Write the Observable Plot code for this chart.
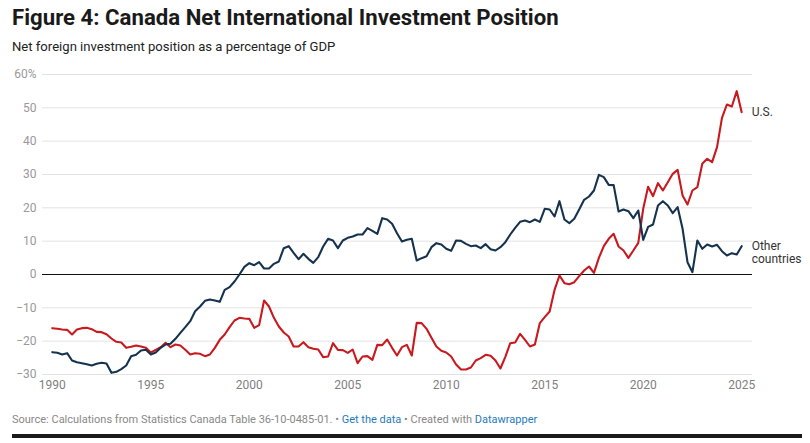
<!DOCTYPE html>
<html>
<head>
<meta charset="utf-8">
<script src="https://cdn.jsdelivr.net/npm/d3@7"></script>
<script src="https://cdn.jsdelivr.net/npm/@observablehq/plot@0.6"></script>
<style>
  html, body { margin: 0; padding: 0; background: #fff; }
  body { width: 810px; height: 443px; position: relative; overflow: hidden; font-family: Roboto, "Noto Sans", sans-serif; }
  #title { position: absolute; left: 12px; top: 4px; font-size: 22.2px; font-weight: 700; color: #1a1a1a; white-space: nowrap; }
  #subtitle { position: absolute; left: 12px; top: 39px; font-size: 13.1px; color: #222; white-space: nowrap; }
  #chart { position: absolute; left: 0; top: 62px; }
  #footer { position: absolute; left: 12px; top: 413px; font-size: 11px; color: #888; white-space: nowrap; }
  #footer a { color: #1f7bbd; text-decoration: none; }
  #bar { position: absolute; left: 12px; top: 434px; width: 790px; height: 4px; background: #1a1a1a; }
</style>
</head>
<body>
<div id="title">Figure 4: Canada Net International Investment Position</div>
<div id="subtitle">Net foreign investment position as a percentage of GDP</div>
<div id="chart"></div>
<div id="footer">Source: Calculations from Statistics Canada Table 36-10-0485-01. • <a>Get the data</a> • Created with <a>Datawrapper</a></div>
<div id="bar"></div>
<script>
// Quarterly values, 1990 Q1 .. 2025 Q1 (% of GDP)
const startYear = 1990;
const usValues = [
  -16.1, -16.3, -16.5, -16.6,   // 1990
  -18.0, -16.5, -16.1, -16.0,   // 1991
  -16.4, -17.2, -17.3, -17.9,   // 1992
  -19.2, -20.2, -20.4, -22.0,   // 1993
  -21.7, -21.3, -21.6, -22.0,   // 1994
  -23.4, -22.6, -21.8, -20.5,   // 1995
  -21.8, -21.0, -21.3, -22.6,   // 1996
  -24.0, -23.6, -23.8, -24.5,   // 1997
  -24.0, -22.0, -19.6, -18.0,   // 1998
  -15.8, -13.8, -13.0, -13.2,   // 1999
  -13.3, -16.0, -15.2, -7.8,    // 2000
  -9.6, -13.0, -15.6, -17.4,    // 2001
  -18.6, -21.6, -21.6, -20.3,   // 2002
  -21.8, -22.3, -22.5, -24.8,   // 2003
  -24.6, -20.6, -22.6, -22.7,   // 2004
  -23.5, -22.5, -26.6, -24.6,   // 2005
  -24.5, -25.6, -21.1, -21.2,   // 2006
  -19.5, -22.0, -24.3, -21.8,   // 2007
  -21.1, -24.3, -14.5, -14.6,   // 2008
  -16.3, -19.0, -21.6, -22.9,   // 2009
  -23.4, -24.6, -27.0, -28.5,   // 2010
  -28.5, -27.9, -25.8, -25.1,   // 2011
  -24.1, -24.4, -25.8, -28.2,   // 2012
  -24.7, -20.6, -20.4, -17.8,   // 2013
  -19.6, -21.6, -21.0, -14.6,   // 2014
  -12.8, -11.1, -4.6, -0.3,     // 2015
  -2.6, -2.9, -2.3, -0.5,       // 2016
  1.2, 2.4, 0.5, 5.0,           // 2017
  8.5, 10.7, 12.2, 8.4,         // 2018
  7.2, 5.0, 7.2, 9.5,           // 2019
  19.7, 26.3, 23.5, 27.4,       // 2020
  25.2, 27.7, 30.2, 31.4,       // 2021
  23.7, 21.0, 25.2, 26.2,       // 2022
  33.2, 34.7, 33.7, 38.2,       // 2023
  47.0, 51.0, 50.4, 55.0,       // 2024
  48.7                          // 2025
];
const otherValues = [
  -23.3, -23.5, -24.0, -23.6,   // 1990
  -25.8, -26.3, -26.6, -26.9,   // 1991
  -27.3, -26.8, -26.5, -26.7,   // 1992
  -29.5, -29.2, -28.4, -27.3,   // 1993
  -24.5, -24.1, -22.8, -22.6,   // 1994
  -24.0, -23.4, -22.0, -21.0,   // 1995
  -20.8, -19.3, -17.5, -15.8,   // 1996
  -14.0, -11.0, -9.6, -7.9,     // 1997
  -7.5, -7.8, -8.2, -4.6,       // 1998
  -3.8, -2.1, 0.0, 2.3,         // 1999
  3.4, 2.8, 3.7, 1.8,           // 2000
  1.8, 3.2, 3.9, 7.9,           // 2001
  8.5, 6.5, 4.6, 6.2,           // 2002
  4.7, 3.5, 5.2, 8.4,           // 2003
  10.7, 10.2, 7.9, 10.2,        // 2004
  11.0, 11.4, 12.0, 12.0,       // 2005
  13.9, 13.1, 12.2, 16.9,       // 2006
  16.5, 15.2, 12.4, 9.9,        // 2007
  10.4, 10.7, 4.2, 4.9,         // 2008
  5.5, 8.2, 9.4, 9.0,           // 2009
  7.7, 7.1, 10.2, 10.1,         // 2010
  9.2, 8.5, 8.7, 7.9,           // 2011
  9.1, 7.6, 7.2, 8.2,           // 2012
  9.7, 12.0, 14.0, 15.8,        // 2013
  16.2, 15.7, 16.5, 15.8,       // 2014
  19.7, 19.5, 17.4, 22.0,       // 2015
  16.5, 15.4, 16.7, 19.5,       // 2016
  22.4, 23.4, 25.2, 29.9,       // 2017
  29.2, 26.9, 26.8, 18.9,       // 2018
  19.5, 19.0, 16.9, 19.2,       // 2019
  10.4, 14.3, 15.0, 20.7,       // 2020
  22.0, 20.7, 18.4, 20.2,       // 2021
  13.7, 3.7, 0.7, 10.2,         // 2022
  7.7, 9.0, 8.4, 8.9,           // 2023
  7.0, 5.7, 6.4, 6.0,           // 2024
  8.5                           // 2025
];
const seriesNames = ["U.S.", "Other countries"];
const seriesLabels = ["U.S.", "Other\ncountries"];
const seriesColors = ["#c8191f", "#15324f"];
const xTicks = [1990, 1995, 2000, 2005, 2010, 2015, 2020, 2025];
const yTicks = [-30, -20, -10, 0, 10, 20, 30, 40, 50, 60];

const rows = [];
[usValues, otherValues].forEach((vals, k) => {
  vals.forEach((v, i) => rows.push({series: seriesNames[k], t: startYear + i / 4, v}));
});
const lastRows = seriesNames.map((s, k) => ({...rows.filter(r => r.series === s).slice(-1)[0], label: seriesLabels[k]}));

const fmtY = d => d === 60 ? "60%" : (d < 0 ? "\u2212" + Math.abs(d) : String(d));

const chart = Plot.plot({
  width: 810,
  height: 335,
  marginLeft: 42,
  marginRight: 58,
  marginTop: 12,
  marginBottom: 23,
  style: {fontFamily: "Roboto, sans-serif", fontSize: "12px", overflow: "visible"},
  x: {domain: [1989.5, 2025.55]},
  y: {domain: [-30, 60]},
  color: {domain: seriesNames, range: seriesColors},
  marks: [
    Plot.gridY(yTicks, {stroke: "#e2e2e2", strokeOpacity: 1, strokeWidth: 1}),
    Plot.axisY(yTicks, {tickSize: 0, tickPadding: 6, tickFormat: fmtY, label: null, fill: "#999", fontSize: 12}),
    Plot.axisX(xTicks, {tickSize: 0, tickPadding: 6, tickFormat: d => String(d), label: null, fill: "#808080", fontSize: 12}),
    Plot.ruleY([0], {stroke: "#111", strokeWidth: 1}),
    Plot.lineY(rows, {x: "t", y: "v", z: "series", stroke: "series", strokeWidth: 2.1, curve: "linear"}),
    Plot.text(lastRows.slice(0, 1), {x: "t", y: "v", text: "label",
      textAnchor: "start", dx: 10, lineAnchor: "middle", fill: "#333", fontSize: 12}),
    Plot.text(lastRows.slice(1), {x: "t", y: "v", text: "label",
      textAnchor: "start", dx: 10, dy: -6, lineAnchor: "top", fill: "#333", fontSize: 12, lineHeight: 1.1})
  ]
});
document.getElementById("chart").appendChild(chart);
</script>
</body>
</html>
